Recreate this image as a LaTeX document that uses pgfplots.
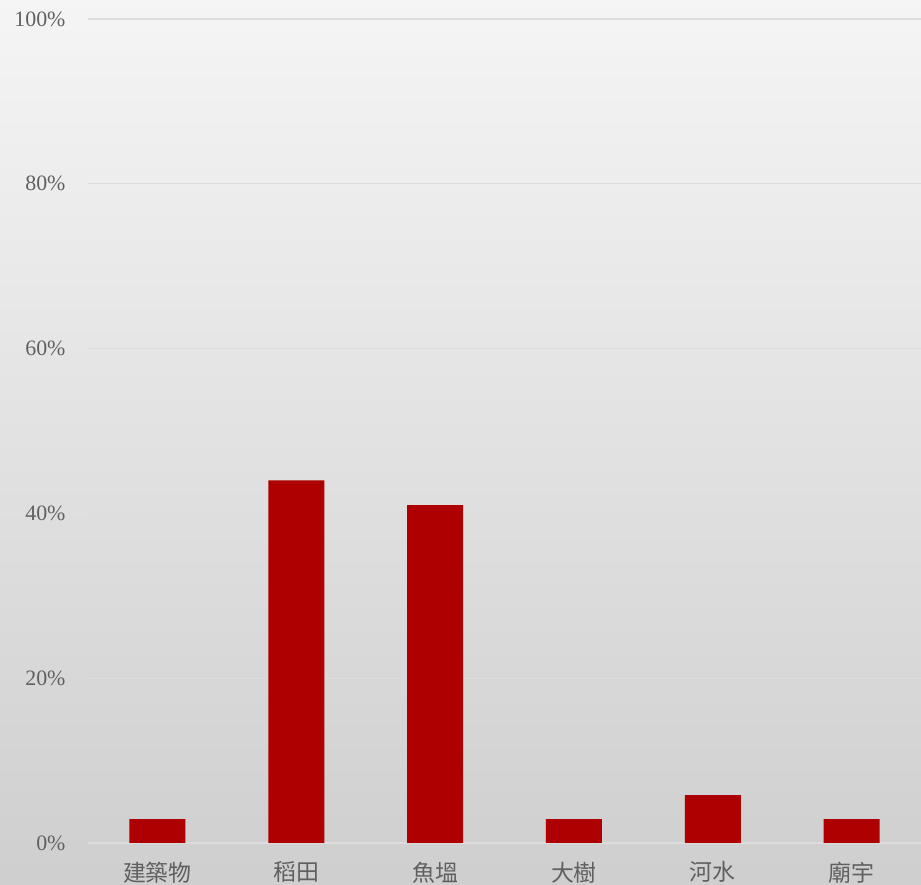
\documentclass[border=0pt]{standalone}
\usepackage{pgfplots}
\pgfplotsset{compat=1.18}
\usepackage{fontspec}
\setmainfont{Liberation Serif}
\newfontfamily\cjk{Noto Sans CJK TC}
\definecolor{barred}{HTML}{AE0000}
\definecolor{txt}{HTML}{606060}
\definecolor{gridc}{HTML}{DCDCDC}
\begin{document}
\begin{tikzpicture}[x=1bp,y=1bp]
\useasboundingbox (0,0) rectangle (921,885);
\shade[top color=white!96!black, bottom color=white!81!black] (0,0) rectangle (921,885);
\begin{axis}[
  at={(88bp,42bp)}, anchor=south west,
  scale only axis, width=833bp, height=824bp,
  xmin=-0.5, xmax=5.5, ymin=0, ymax=100,
  axis line style={draw=none}, tick style={draw=none},
  ytick={0,20,...,100}, yticklabel={\pgfmathprintnumber{\tick}\%},
  /pgf/number format/assume math mode=true,
  ymajorgrids, xmajorgrids=false, grid style={draw=gridc, line width=1.2bp},
  xtick={0,...,5},
  xticklabels={建築物,稻田,魚塭,大樹,河水,廟宇},
  x tick label style={font=\cjk\fontsize{23}{26}\selectfont, text=txt, yshift=-11bp},
  y tick label style={font=\fontsize{22}{24}\selectfont, text=txt, xshift=-19bp},
  ybar, bar width=56bp,
]
\addplot[fill=barred, draw=none] coordinates {(0,2.9) (1,44.0) (2,41.0) (3,2.9) (4,5.8) (5,2.9)};
\end{axis}
\end{tikzpicture}
\end{document}
